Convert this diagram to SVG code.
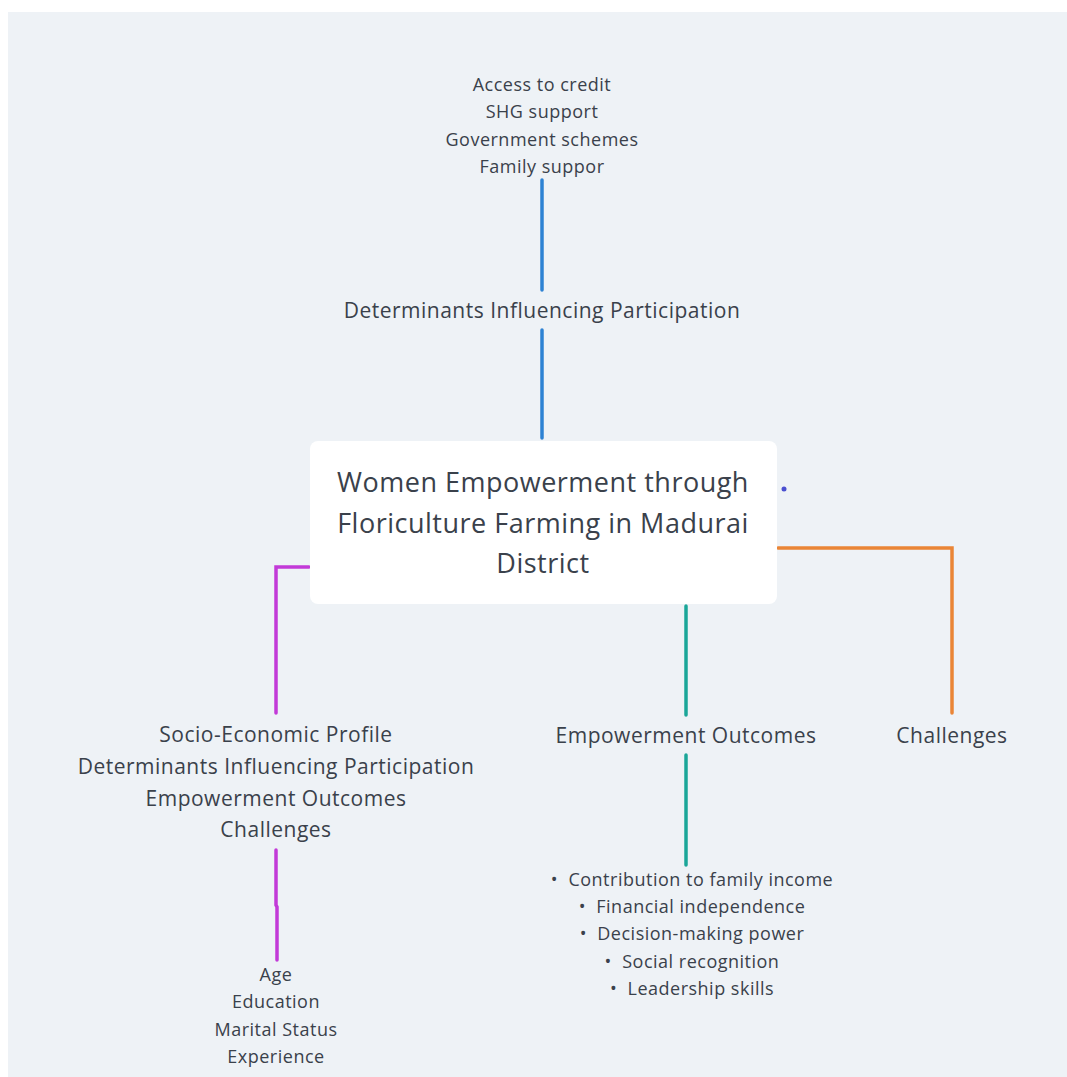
<svg xmlns="http://www.w3.org/2000/svg" width="1067" height="1077" viewBox="0 0 1067 1077">
<style>
text{font-family:"Open Sans","Noto Sans","Liberation Sans",sans-serif;fill:#3a414b;text-anchor:middle;letter-spacing:0.5px;white-space:pre}
.s{font-size:18px}
.m{font-size:21px}
.t{font-size:27px}
.c{fill:none;stroke-width:3.5;stroke-linecap:round;stroke-linejoin:miter}
.blue{stroke:#2d82d3}
.pur{stroke:#c23ad8}
.teal{stroke:#1aa698}
.orn{stroke:#ea8536}
</style>
<rect x="0" y="0" width="1067" height="1077" fill="#ffffff"/>
<rect x="8" y="12" width="1059" height="1065" fill="#eef2f6"/>
<g id="connectors">
<path class="c blue" d="M542 180V290"/>
<path class="c blue" d="M542 330V438"/>
<path class="c pur" d="M309 567H276V713"/>
<path class="c pur" d="M276 850V905L277 907V960"/>
<path class="c teal" d="M686 606V715"/>
<path class="c teal" d="M686 755V865"/>
<path class="c orn" d="M778 548H952V713"/>
<circle cx="784" cy="489" r="2.5" fill="#4a4fd0"/>
</g>
<g id="center">
<rect x="310" y="441" width="467" height="163" rx="8" fill="#ffffff"/>
<text class="t" x="543" y="492">Women Empowerment through</text>
<text class="t" x="543" y="533">Floriculture Farming in Madurai</text>
<text class="t" x="543" y="573">District</text>
</g>
<g id="determinants-details">
<text class="s" x="542" y="91">Access to credit</text>
<text class="s" x="542" y="118">SHG support</text>
<text class="s" x="542" y="146">Government schemes</text>
<text class="s" x="542" y="173">Family suppor</text>
</g>
<g id="determinants">
<text class="m" x="542" y="318">Determinants Influencing Participation</text>
</g>
<g id="socio-economic">
<text class="m" x="276" y="742">Socio-Economic Profile</text>
<text class="m" x="276" y="774">Determinants Influencing Participation</text>
<text class="m" x="276" y="806">Empowerment Outcomes</text>
<text class="m" x="276" y="837">Challenges</text>
</g>
<g id="profile-details">
<text class="s" x="276" y="981">Age</text>
<text class="s" x="276" y="1008">Education</text>
<text class="s" x="276" y="1036">Marital Status</text>
<text class="s" x="276" y="1063">Experience</text>
</g>
<g id="outcomes">
<text class="m" x="686" y="743">Empowerment Outcomes</text>
</g>
<g id="challenges">
<text class="m" x="952" y="743">Challenges</text>
</g>
<g id="outcome-details">
<text class="s" x="692" y="886">•  Contribution to family income</text>
<text class="s" x="692" y="913">•  Financial independence</text>
<text class="s" x="692" y="940">•  Decision-making power</text>
<text class="s" x="692" y="968">•  Social recognition</text>
<text class="s" x="692" y="995">•  Leadership skills</text>
</g>
</svg>
